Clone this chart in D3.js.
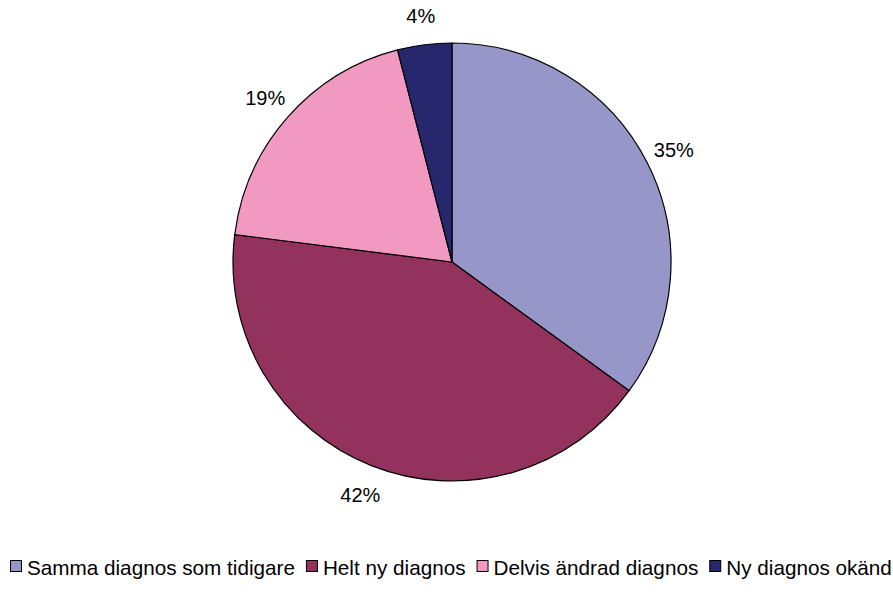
<!DOCTYPE html>
<html>
<head>
<meta charset="utf-8">
<script src="https://cdn.jsdelivr.net/npm/d3@7"></script>
<style>
  html, body { margin: 0; padding: 0; background: #fff; }
  svg text { font-family: "Liberation Sans", Arial, sans-serif; fill: #000; }
</style>
</head>
<body>
<svg id="chart" width="893" height="601"></svg>
<script>
// Categories and their shares (percent)
const categories = ["Samma diagnos som tidigare", "Helt ny diagnos", "Delvis ändrad diagnos", "Ny diagnos okänd"];
const shares = [35, 42, 19, 4];
const colors = ["#9696C8", "#94325E", "#F299C1", "#27276E"];

const svg = d3.select("#chart");
const cx = 452, cy = 262, radius = 219;

const data = categories.map((c, i) => ({ name: c, value: shares[i], color: colors[i] }));

const pie = d3.pie().sort(null).value(d => d.value).startAngle(0).endAngle(2 * Math.PI);
const arcs = pie(data);
const arc = d3.arc().innerRadius(0).outerRadius(radius);
const labelArc = d3.arc().innerRadius(249).outerRadius(249);

const g = svg.append("g").attr("transform", `translate(${cx},${cy})`);

g.selectAll("path.slice")
  .data(arcs)
  .join("path")
  .attr("class", "slice")
  .attr("d", arc)
  .attr("fill", d => d.data.color)
  .attr("stroke", "#000")
  .attr("stroke-width", 1.2)
  .attr("stroke-linejoin", "round");

g.selectAll("text.pct")
  .data(arcs)
  .join("text")
  .attr("class", "pct")
  .attr("transform", d => { const [px, py] = labelArc.centroid(d); return `translate(${px},${py + 1})`; })
  .attr("text-anchor", "middle")
  .attr("dominant-baseline", "central")
  .attr("font-size", 20)
  .text(d => d.data.value + "%");

// Legend row along the bottom
const legend = svg.append("g").attr("transform", "translate(10,566)");
const box = 12, gapText = 5, gapItem = 11;
let x = 0;
data.forEach(d => {
  const item = legend.append("g").attr("transform", `translate(${x},0)`);
  item.append("rect")
    .attr("x", 0.5).attr("y", -box / 2 + 0.5)
    .attr("width", box - 1).attr("height", box - 1)
    .attr("fill", d.color).attr("stroke", "#000").attr("stroke-width", 1);
  const t = item.append("text")
    .attr("x", box + gapText)
    .attr("y", 1)
    .attr("dominant-baseline", "central")
    .attr("font-size", 20.7)
    .text(d.name);
  x += box + gapText + t.node().getComputedTextLength() + gapItem;
});
</script>
</body>
</html>
